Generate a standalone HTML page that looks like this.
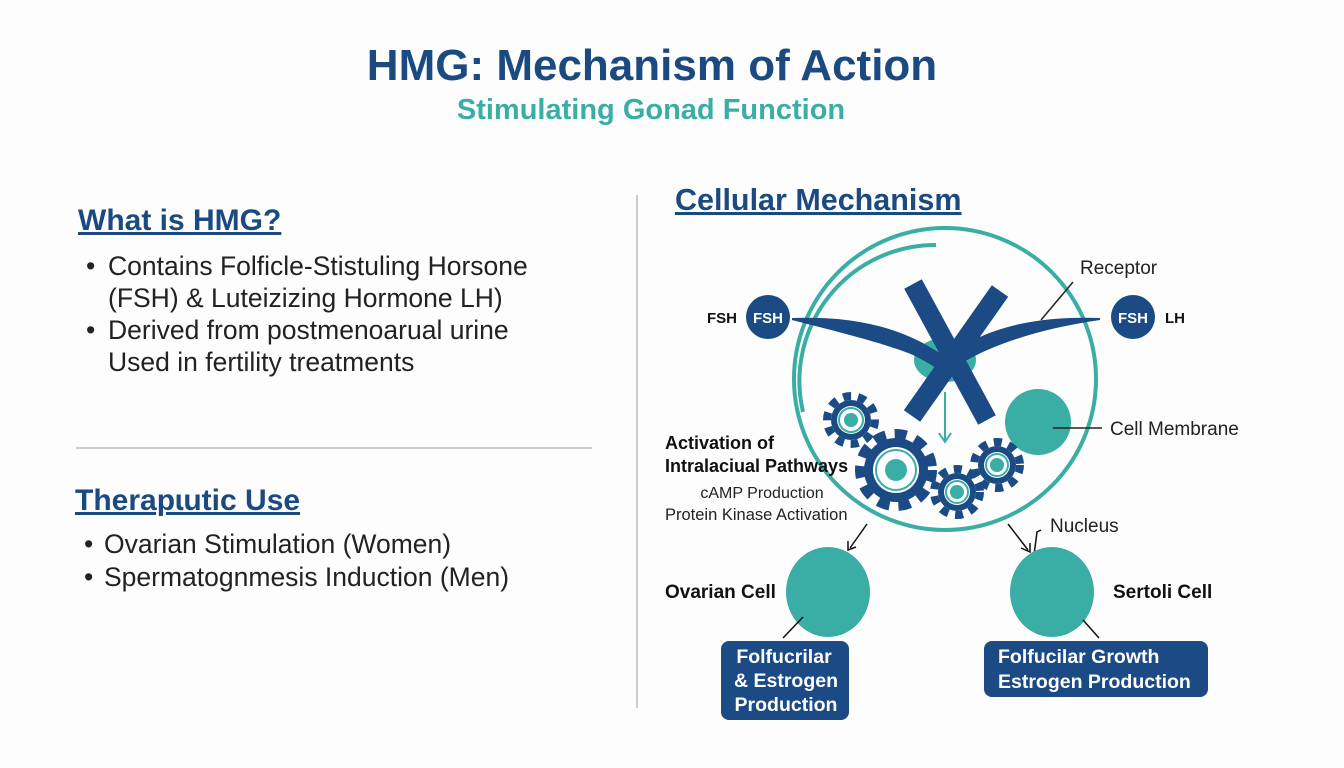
<!DOCTYPE html>
<html><head><meta charset="utf-8"><style>
body{margin:0;background:#fff}
svg{display:block;font-family:"Liberation Sans",Arial,sans-serif}
</style></head><body>
<svg width="1344" height="768" viewBox="0 0 1344 768" xmlns="http://www.w3.org/2000/svg">
<rect width="1344" height="768" fill="#fdfdfd"/>
<text x="652" y="80" text-anchor="middle" font-size="44" font-weight="bold" fill="#1b4a80">HMG: Mechanism of Action</text>
<text x="651" y="119" text-anchor="middle" font-size="29" font-weight="bold" fill="#3aaea5">Stimulating Gonad Function</text>

<text x="78" y="230" font-size="30" font-weight="bold" fill="#1b4a80" text-decoration="underline">What is HMG?</text>
<g font-size="26.5" fill="#222">
<text x="86" y="275">•</text><text x="108" y="275">Contains Folficle-Stistuling Horsone</text>
<text x="108" y="307">(FSH) &amp; Luteizizing Hormone LH)</text>
<text x="86" y="339">•</text><text x="108" y="339">Derived from postmenoarual urine</text>
<text x="108" y="371">Used in fertility treatments</text>
</g>
<line x1="76" y1="448" x2="592" y2="448" stroke="#bbb" stroke-width="1.5"/>
<text x="75" y="510" font-size="30" font-weight="bold" fill="#1b4a80" text-decoration="underline">Therapɩutic Use</text>
<g font-size="26.5" fill="#222">
<text x="84" y="553">•</text><text x="104" y="553">Ovarian Stimulation (Women)</text>
<text x="84" y="586">•</text><text x="104" y="586">Spermatognmesis Induction (Men)</text>
</g>
<line x1="637" y1="195" x2="637" y2="708" stroke="#bbb" stroke-width="1.5"/>

<text x="675" y="210" font-size="30.5" font-weight="bold" fill="#1b4a80" text-decoration="underline">Cellular Mechanism</text>

<circle cx="945" cy="379" r="151" fill="none" stroke="#3aaea5" stroke-width="4"/>
<path d="M936,245 A136,136 0 0 0 803,412" fill="none" stroke="#3aaea5" stroke-width="4"/>

<ellipse cx="945" cy="360" rx="31" ry="22" fill="#3aaea5"/>
<line x1="913" y1="284" x2="987" y2="420" stroke="#1b4a85" stroke-width="20"/>
<line x1="1000" y1="291" x2="912" y2="416" stroke="#1b4a85" stroke-width="20"/>
<path d="M792,318 C860,322 915,330 950,375 C920,352 870,340 792,320 Z" fill="#1b4a85"/>
<path d="M792,318 C850,316 905,325 952,362 L950,378 C915,350 860,330 792,320 Z" fill="#1b4a85"/>
<path d="M1100,318 C1040,316 985,325 938,362 L940,378 C975,350 1030,330 1100,320 Z" fill="#1b4a85"/>

<circle cx="768" cy="317" r="22" fill="#1b4a85"/>
<text x="768" y="323" text-anchor="middle" font-size="15" font-weight="bold" fill="#fff">FSH</text>
<text x="722" y="323" text-anchor="middle" font-size="15" font-weight="bold" fill="#111">FSH</text>
<circle cx="1133" cy="317" r="22" fill="#1b4a85"/>
<text x="1133" y="323" text-anchor="middle" font-size="15" font-weight="bold" fill="#fff">FSH</text>
<text x="1175" y="323" text-anchor="middle" font-size="15" font-weight="bold" fill="#111">LH</text>
<text x="1080" y="274" font-size="19" fill="#222">Receptor</text>
<line x1="1073" y1="282" x2="1041" y2="320" stroke="#222" stroke-width="1.5"/>

<line x1="945" y1="392" x2="945" y2="440" stroke="#3aaea5" stroke-width="2"/>
<path d="M939,433 L945,442 L951,433" fill="none" stroke="#3aaea5" stroke-width="2"/>

<ellipse cx="1038" cy="422" rx="33" ry="33" fill="#3aaea5"/>
<line x1="1053" y1="428" x2="1102" y2="428" stroke="#222" stroke-width="1.5"/>
<text x="1110" y="435" font-size="19" fill="#222">Cell Membrane</text>

<g fill="#1b4a85">
<circle cx="851" cy="420" r="20"/><circle cx="851" cy="420" r="24" fill="none" stroke="#1b4a85" stroke-width="8" stroke-dasharray="8 7"/>
<circle cx="896" cy="470" r="32"/><circle cx="896" cy="470" r="36" fill="none" stroke="#1b4a85" stroke-width="10" stroke-dasharray="12 9"/>
<circle cx="957" cy="492" r="19"/><circle cx="957" cy="492" r="23" fill="none" stroke="#1b4a85" stroke-width="8" stroke-dasharray="8 7"/>
<circle cx="997" cy="465" r="19"/><circle cx="997" cy="465" r="23" fill="none" stroke="#1b4a85" stroke-width="8" stroke-dasharray="8 7"/>
</g>
<g fill="#fff">
<circle cx="851" cy="420" r="14"/><circle cx="896" cy="470" r="23"/><circle cx="957" cy="492" r="13"/><circle cx="997" cy="465" r="13"/>
</g>
<g fill="none" stroke="#3aaea5" stroke-width="2">
<circle cx="851" cy="420" r="12"/><circle cx="896" cy="470" r="20"/><circle cx="957" cy="492" r="11"/><circle cx="997" cy="465" r="11"/>
</g>
<g fill="#3aaea5">
<circle cx="851" cy="420" r="7"/><circle cx="896" cy="470" r="11"/><circle cx="957" cy="492" r="7"/><circle cx="997" cy="465" r="7"/>
</g>

<text x="665" y="449" font-size="18" font-weight="bold" fill="#111">Activation of</text>
<text x="665" y="472" font-size="18" font-weight="bold" fill="#111">Intralaciual Pathways</text>
<text x="762" y="498" text-anchor="middle" font-size="16" fill="#222">cAMP Production</text>
<text x="665" y="520" font-size="16.5" fill="#222">Protein Kinase Activation</text>

<line x1="867" y1="524" x2="850" y2="548" stroke="#111" stroke-width="1.5"/>
<path d="M848,541 L848,550 L856,547" fill="none" stroke="#111" stroke-width="1.5"/>
<line x1="1008" y1="524" x2="1028" y2="550" stroke="#111" stroke-width="1.5"/>
<path d="M1021,548 L1030,552 L1030,543" fill="none" stroke="#111" stroke-width="1.5"/>
<path d="M1041,530 L1037,532 L1034,555" fill="none" stroke="#111" stroke-width="1.5"/>
<text x="1050" y="532" font-size="19" fill="#222">Nucleus</text>

<ellipse cx="828" cy="592" rx="42" ry="45" fill="#3aaea5"/>
<ellipse cx="1052" cy="592" rx="42" ry="45" fill="#3aaea5"/>
<text x="665" y="598" font-size="19" font-weight="bold" fill="#111">Ovarian Cell</text>
<text x="1113" y="598" font-size="19" font-weight="bold" fill="#111">Sertoli Cell</text>
<line x1="803" y1="617" x2="783" y2="638" stroke="#111" stroke-width="1.5"/>
<line x1="1083" y1="620" x2="1099" y2="638" stroke="#111" stroke-width="1.5"/>

<rect x="721" y="641" width="128" height="79" rx="8" fill="#1b4a85"/>
<g font-size="19.5" font-weight="bold" fill="#fff" text-anchor="middle">
<text x="784" y="663">Folfucrilar</text>
<text x="786" y="687">&amp; Estrogen</text>
<text x="786" y="711">Production</text>
</g>
<rect x="984" y="641" width="224" height="56" rx="8" fill="#1b4a85"/>
<g font-size="19.5" font-weight="bold" fill="#fff">
<text x="998" y="663">Folfucilar Growth</text>
<text x="998" y="688">Estrogen Production</text>
</g>
</svg>
</body></html>
